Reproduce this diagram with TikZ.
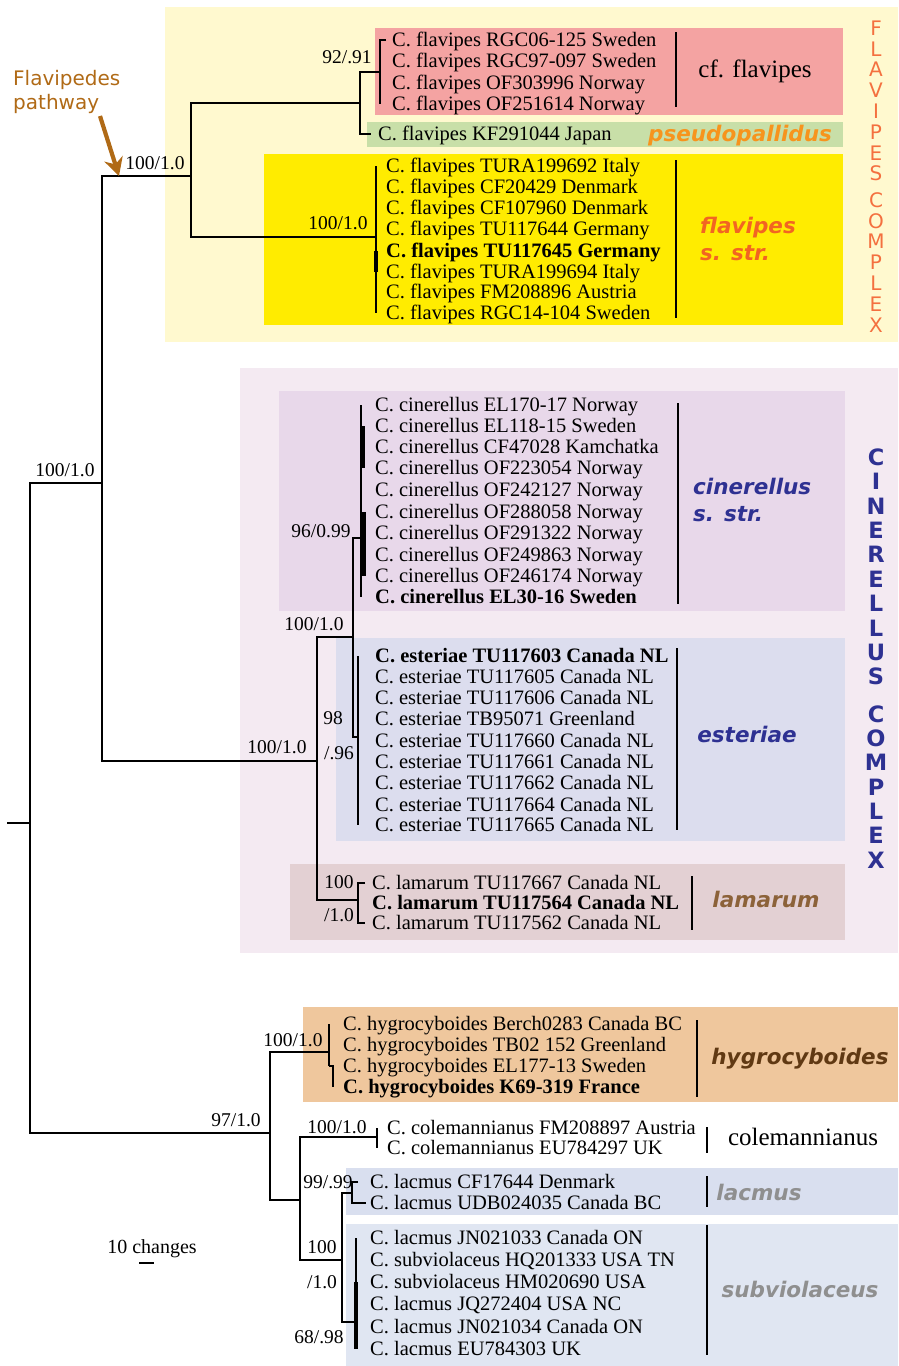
\documentclass[tikz,border=0pt]{standalone}
\usepackage{fontspec}
\setmainfont{Liberation Serif}
\newfontfamily\cladefont{DejaVu Sans}
\usepackage{tikz}
\usetikzlibrary{arrows.meta}
\definecolor{flavbg}{HTML}{FFF9CF}
\definecolor{cfpink}{HTML}{F4A3A2}
\definecolor{psgreen}{HTML}{C8DFA8}
\definecolor{flssyel}{HTML}{FFEC00}
\definecolor{pseudoor}{HTML}{F7941D}
\definecolor{flssor}{HTML}{F26522}
\definecolor{flavcx}{HTML}{F4703F}
\definecolor{cinbg}{HTML}{F4EAF2}
\definecolor{cinssbox}{HTML}{E8D8EA}
\definecolor{estbox}{HTML}{DCDDEE}
\definecolor{lambox}{HTML}{E3D0D3}
\definecolor{cinblue}{HTML}{2E3192}
\definecolor{lamtxt}{HTML}{8C6239}
\definecolor{hygbox}{HTML}{EFC79D}
\definecolor{hygtxt}{HTML}{603913}
\definecolor{lacbox}{HTML}{D9DFEF}
\definecolor{subbox}{HTML}{E0E6F2}
\definecolor{graytxt}{HTML}{8F8F8F}
\definecolor{pathbr}{HTML}{B06A16}

\begin{document}
\begin{tikzpicture}[x=1pt,y=-1pt,
br/.style={line width=2.5pt},thk/.style={line width=4.2pt},bar/.style={line width=2.5pt},
tip/.style={anchor=west,inner sep=0pt,text height=13.4pt,text depth=0pt,font=\fontsize{20.5}{22}\selectfont},
sup/.style={inner sep=0pt,text height=12.8pt,text depth=0pt,font=\fontsize{19.5}{21}\selectfont},
clade/.style={inner sep=0pt,text height=15.5pt,text depth=0pt,text=#1,font=\cladefont\bfseries\itshape\fontsize{21.5}{24}\selectfont},
plain/.style={inner sep=0pt,text height=16pt,text depth=0pt,font=\fontsize{25}{28}\selectfont},
flet/.style={inner sep=0pt,text height=14.5pt,text depth=0pt,text=flavcx,font=\cladefont\fontsize{20}{22}\selectfont},
clet/.style={inner sep=0pt,text height=16.5pt,text depth=0pt,text=cinblue,font=\cladefont\bfseries\fontsize{22.5}{24}\selectfont},
pwarrow/.style={draw=pathbr,line width=4.2pt,-{Stealth[length=18pt,width=19pt]}}]
\useasboundingbox (0,0) rectangle (898,1366);
\fill[flavbg] (165,7) rectangle (898,342);
\fill[cfpink] (375,28) rectangle (843,115);
\fill[psgreen] (367,122) rectangle (843,147);
\fill[flssyel] (264,154) rectangle (843,325);
\fill[cinbg] (240,368) rectangle (898,953);
\fill[cinssbox] (279,391) rectangle (845,611);
\fill[estbox] (336,638) rectangle (845,841);
\fill[lambox] (290,864) rectangle (845,940);
\fill[hygbox] (303,1007) rectangle (898,1102);
\fill[lacbox] (346,1168) rectangle (898,1215);
\fill[subbox] (346,1224) rectangle (898,1366);
\foreach \y/\t [count=\i] in %
{40/RGC06-125 Sweden,61/RGC97-097 Sweden,83/OF303996 Norway,104/OF251614 Norway} {
   \node[tip] (cf\i) at (392,\y) {C. flavipes \t};
}
\node[tip] (ps) at (378,134) {C. flavipes KF291044 Japan};
\foreach \y/\t [count=\i] in %
{166/C. flavipes TURA199692 Italy,187/C. flavipes CF20429 Denmark,208/C. flavipes CF107960 Denmark,%
229/C. flavipes TU117644 Germany,251/\textbf{C. flavipes TU117645 Germany},272/C. flavipes TURA199694 Italy,%
292/C. flavipes FM208896 Austria,313/C. flavipes RGC14-104 Sweden} {
   \node[tip] (fs\i) at (386,\y) {\t};
}
\foreach \y/\t [count=\i] in %
{405/C. cinerellus EL170-17 Norway,426/C. cinerellus EL118-15 Sweden,447/C. cinerellus CF47028 Kamchatka,%
468/C. cinerellus OF223054 Norway,490/C. cinerellus OF242127 Norway,512/C. cinerellus OF288058 Norway,%
533/C. cinerellus OF291322 Norway,555/C. cinerellus OF249863 Norway,576/C. cinerellus OF246174 Norway,%
597/\textbf{C. cinerellus EL30-16 Sweden}} {
   \node[tip] (ci\i) at (375,\y) {\t};
}
\foreach \y/\t [count=\i] in %
{656/\textbf{C. esteriae TU117603 Canada NL},677/C. esteriae TU117605 Canada NL,698/C. esteriae TU117606 Canada NL,%
719/C. esteriae TB95071 Greenland,741/C. esteriae TU117660 Canada NL,762/C. esteriae TU117661 Canada NL,%
783/C. esteriae TU117662 Canada NL,805/C. esteriae TU117664 Canada NL,825/C. esteriae TU117665 Canada NL} {
   \node[tip] (es\i) at (375,\y) {\t};
}
\foreach \y/\t [count=\i] in %
{883/C. lamarum TU117667 Canada NL,903/\textbf{C. lamarum TU117564 Canada NL},923/C. lamarum TU117562 Canada NL} {
   \node[tip] (lm\i) at (372,\y) {\t};
}
\foreach \y/\t [count=\i] in %
{1024/C. hygrocyboides Berch0283 Canada BC,1045/C. hygrocyboides TB02 152 Greenland,%
1066/C. hygrocyboides EL177-13 Sweden,1087/\textbf{C. hygrocyboides K69-319 France}} {
   \node[tip] (hy\i) at (343,\y) {\t};
}
\foreach \y/\t [count=\i] in %
{1128/C. colemannianus FM208897 Austria,1148/C. colemannianus EU784297 UK} {
   \node[tip] (co\i) at (387,\y) {\t};
}
\foreach \y/\t [count=\i] in %
{1182/C. lacmus CF17644 Denmark,1203/C. lacmus UDB024035 Canada BC} {
   \node[tip] (la\i) at (370,\y) {\t};
}
\foreach \y/\t [count=\i] in %
{1238/C. lacmus JN021033 Canada ON,1260/C. subviolaceus HQ201333 USA TN,1282/C. subviolaceus HM020690 USA,%
1304/C. lacmus JQ272404 USA NC,1327/C. lacmus JN021034 Canada ON,1349/C. lacmus EU784303 UK} {
   \node[tip] (sv\i) at (370,\y) {\t};
}
\coordinate (stub) at (7,823);
\coordinate (root) at (30,823);
\coordinate (up) at (102,483);
\coordinate (flc) at (191,176);
\coordinate (cfp) at (360,103);
\coordinate (cf) at (380,72);
\coordinate (fss) at (376,237);
\coordinate (cic) at (317,761);
\coordinate (cie) at (353,637);
\coordinate (cis) at (361,538);
\coordinate (est) at (358,737);
\coordinate (lam) at (358,900);
\coordinate (low) at (270,1133);
\coordinate (hyg) at (329,1052);
\coordinate (clc) at (300,1200);
\coordinate (col) at (377,1137);
\coordinate (lsv) at (342,1260);
\coordinate (lac) at (352,1193);
\coordinate (sub) at (356,1322);
\draw[br] (stub) -- (root);
\draw[br] (root) |- (up);
\draw[br] (root) |- (low);
\draw[br] (up) |- (flc);
\draw[br] (up) |- (cic);
\draw[br] (flc) |- (cfp);
\draw[br] (flc) |- (fss);
\draw[br] (cfp) |- (cf);
\draw[br] (cfp) |- ([xshift=-7pt]ps.west);
\draw[br] ([xshift=-6pt]cf1.west) -| (cf |- cf4);
\draw[br] (fss |- fs1) -- (fss |- fs8);
\draw[thk] (fss |- fs5) -- (fss |- fs6);
\draw[br] (cic) |- (cie);
\draw[br] (cic) |- (lam);
\draw[br] (cie) |- (cis);
\draw[br] (cie) |- (est);
\draw[br] (cis |- ci1) -- (cis |- ci10);
\draw[thk] ([xshift=1.5pt]cis |- ci2) -- ([xshift=1.5pt]cis |- ci4);
\draw[thk] ([xshift=2.5pt]cis |- ci6) -- ([xshift=2.5pt]cis |- ci9);
\draw[br] (est |- es1) -- (est |- es9);
\draw[br] ([xshift=-7pt]lm1.west) -| (lam) |- ([xshift=-7pt]lm3.west);
\draw[br] (low) |- (hyg);
\draw[br] (low) |- (clc);
\draw[br] (hyg |- hy1) -- (hyg |- hy3);
\draw[br] (hyg |- hy3) -- ([xshift=4pt]hyg |- hy3) -- ([xshift=4pt]hyg |- hy4);
\draw[br] (clc) |- (col);
\draw[br] (clc) |- (lsv);
\draw[br] (col |- co1) -- (col |- co2);
\draw[br] (lsv) |- (lac);
\draw[br] (lsv) |- (sub);
\draw[br] ([xshift=-12pt]la1.west) -| (lac) |- ([xshift=-4pt]la2.west);
\draw[br] (sub |- sv1) -- (sub |- sv6);
\draw[thk] (sub |- sv3) -- (sub |- sv6);
\node[sup] at (347,57) {92/.91};
\node[sup] at (155,163) {100/1.0};
\node[sup] at (338,223) {100/1.0};
\node[sup] at (65,470) {100/1.0};
\node[sup] at (321,531) {96/0.99};
\node[sup] at (314,624) {100/1.0};
\node[sup] at (277,747) {100/1.0};
\node[sup] at (333,718) {98};
\node[sup] at (339,753) {/.96};
\node[sup] at (339,882) {100};
\node[sup] at (339,915) {/1.0};
\node[sup] at (293,1040) {100/1.0};
\node[sup] at (236,1120) {97/1.0};
\node[sup] at (337,1127) {100/1.0};
\node[sup] at (328,1182) {99/.99};
\node[sup] at (322,1247) {100};
\node[sup] at (322,1282) {/1.0};
\node[sup] at (319,1337) {68/.98};
\draw[bar] (676,32) -- (676,107);
\draw[bar] (676,160) -- (676,318);
\draw[bar] (678,403) -- (678,604);
\draw[bar] (677,648) -- (677,830);
\draw[bar] (692,876) -- (692,930);
\draw[bar] (697,1020) -- (697,1097);
\draw[bar] (707,1127) -- (707,1153);
\draw[bar] (707,1176) -- (707,1207);
\draw[bar] (707,1225) -- (707,1355);
\node[plain] (cfl) at (755,69) {cf. flavipes};
\node[clade=pseudoor] (psl) at (740,134) {pseudopallidus};
\node[clade=flssor,anchor=west] (fsl1) at (700,226) {flavipes};
\node[clade=flssor,anchor=west] (fsl2) at (700,253) {s. str.};
\node[clade=cinblue,anchor=west] (cil1) at (693,487) {cinerellus};
\node[clade=cinblue,anchor=west] (cil2) at (693,514) {s. str.};
\node[clade=cinblue] (esl) at (747,735) {esteriae};
\node[clade=lamtxt] (lml) at (766,900) {lamarum};
\node[clade=hygtxt] (hyl) at (800,1057) {hygrocyboides};
\node[plain] (col) at (803,1137) {colemannianus};
\node[clade=graytxt] (lal) at (759,1193) {lacmus};
\node[clade=graytxt] (svl) at (800,1290) {subviolaceus};
\foreach \l [count=\i] in {F,L,A,V,I,P,E,S} {
   \node[flet] (fa\i) at (876,{28+(\i-1)*20.8}) {\l};
}
\foreach \l [count=\i] in {C,O,M,P,L,E,X} {
   \node[flet] (fb\i) at (876,{200+(\i-1)*20.8}) {\l};
}
\foreach \l [count=\i] in {C,I,N,E,R,E,L,L,U,S} {
   \node[clet] (ca\i) at (876,{457+(\i-1)*24.4}) {\l};
}
\foreach \l [count=\i] in {C,O,M,P,L,E,X} {
   \node[clet] (cb\i) at (876,{714+(\i-1)*24.3}) {\l};
}
\node[inner sep=0pt,text height=15pt,text depth=0pt,font=\fontsize{20}{22}\selectfont] (scl) at (152,1246) {10 changes};
\draw[line width=2.8pt] (139,1263) -- (154,1263);
\node[anchor=west,align=left,inner sep=0pt,text=pathbr,font=\cladefont\fontsize{20}{24}\selectfont] (pw) at (13,92) {Flavipedes\\pathway};
\coordinate (pwstart) at (100,116);
\coordinate (pwtip) at (119,176);
\draw[pwarrow] (pwstart) -- (pwtip);
\end{tikzpicture}
\end{document}
